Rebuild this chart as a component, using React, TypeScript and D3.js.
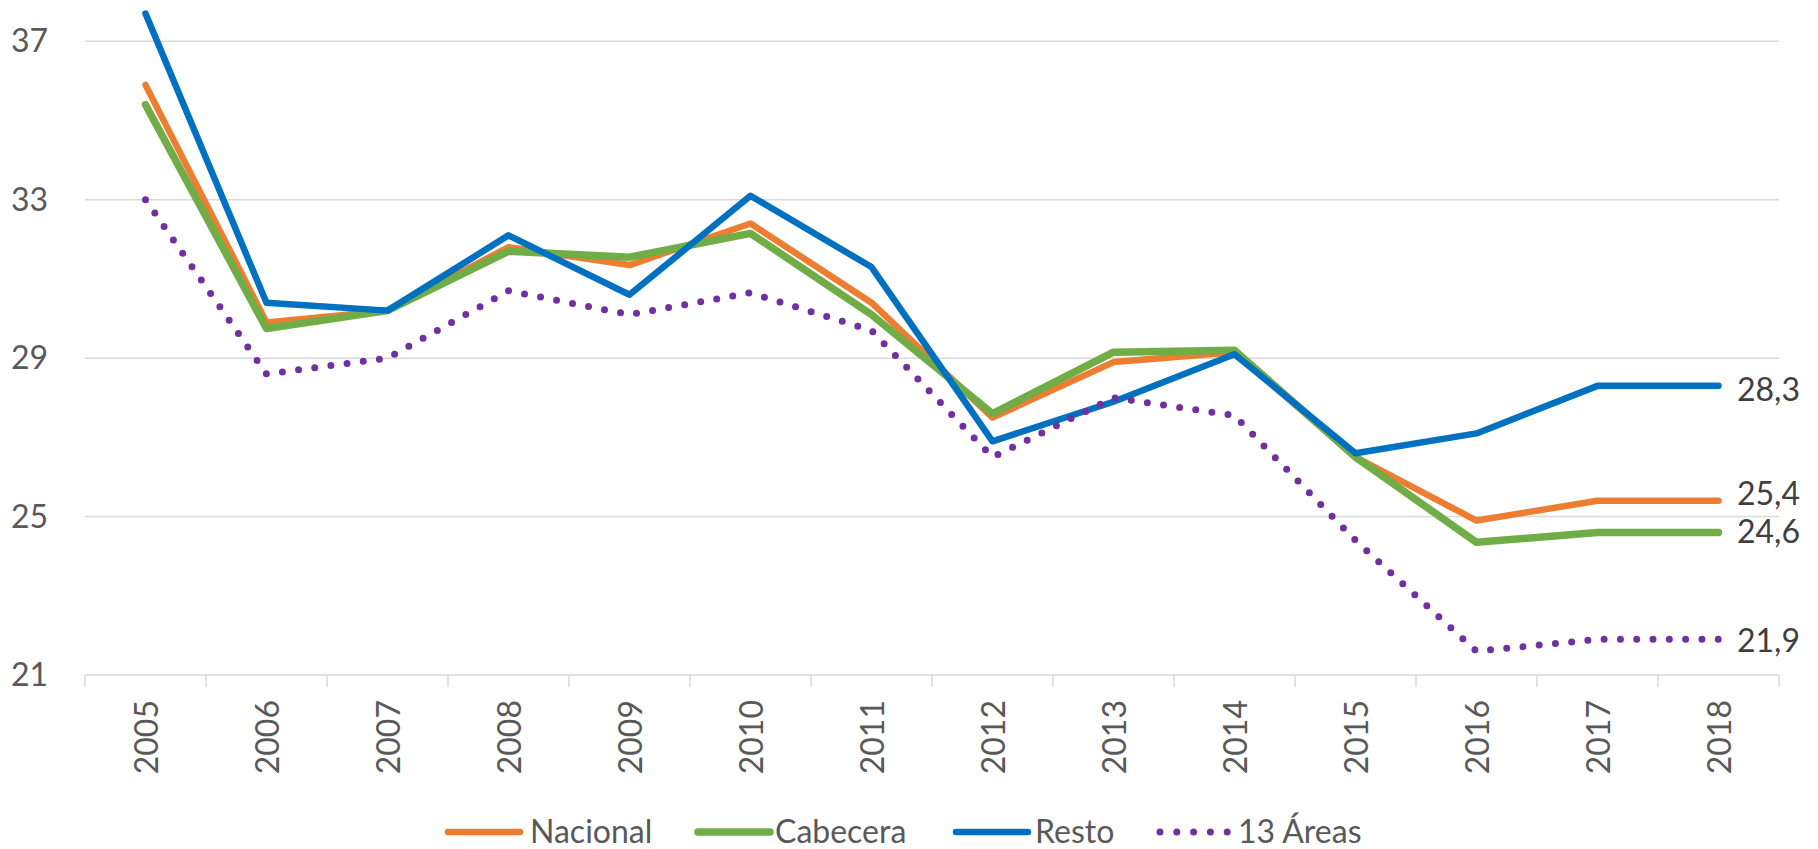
import React from 'react';
import * as d3 from 'd3';

const years = ['2005', '2006', '2007', '2008', '2009', '2010', '2011', '2012', '2013', '2014', '2015', '2016', '2017', '2018'];
const nacional = [35.9, 29.9, 30.2, 31.8, 31.35, 32.4, 30.4, 27.5, 28.9, 29.15, 26.5, 24.9, 25.4, 25.4];
const cabecera = [35.4, 29.75, 30.2, 31.7, 31.55, 32.15, 30.1, 27.6, 29.15, 29.2, 26.5, 24.35, 24.6, 24.6];
const resto = [37.7, 30.4, 30.2, 32.1, 30.6, 33.1, 31.3, 26.9, 27.9, 29.1, 26.6, 27.1, 28.3, 28.3];
const areas = [33.0, 28.6, 29.0, 30.7, 30.1, 30.65, 29.7, 26.5, 28.0, 27.55, 24.4, 21.6, 21.9, 21.9];
const yTicks = [21, 25, 29, 33, 37];
const seriesNames = ['Nacional', 'Cabecera', 'Resto', '13 Áreas'];

const W = 1818;
const H = 849;
const FONT = 'Lato, "Open Sans", sans-serif';

const series = [
  { name: seriesNames[0], values: nacional, color: '#ED7D31', width: 6.5, dotted: false, labelDy: 4, legendX: 448, textX: 530 },
  { name: seriesNames[1], values: cabecera, color: '#70AD47', width: 7.5, dotted: false, labelDy: 11, legendX: 698, textX: 775 },
  { name: seriesNames[2], values: resto, color: '#0070C0', width: 6.5, dotted: false, labelDy: 15, legendX: 956, textX: 1035 },
  { name: seriesNames[3], values: areas, color: '#7030A0', width: 7, dotted: true, labelDy: 13, legendX: 1160, textX: 1238 },
];

const App: React.FC = () => {
  const x = d3.scaleBand<string>().domain(years).range([85, 1779]).padding(0);
  const y = d3.scaleLinear().domain([21, 37]).range([675, 41.3]);
  const cx = (yr: string) => (x(yr) || 0) + x.bandwidth() / 2;

  const line = d3.line<number>()
    .x((d, i) => cx(years[i]))
    .y(d => y(d));

  const bounds = years.map(yr => x(yr) || 0).concat([1779]);

  return (
    <svg width={W} height={H} style={{ position: 'fixed', left: 0, top: 0, background: '#fff' }} fontFamily={FONT}>
      {/* gridlines */}
      {yTicks.map(t => (
        <line key={t} x1={85} x2={1779} y1={y(t)} y2={y(t)} stroke="#d9d9d9" strokeWidth={1.5} />
      ))}
      {/* category ticks */}
      {bounds.map((b, i) => (
        <line key={i} x1={b} x2={b} y1={y(21)} y2={y(21) + 12} stroke="#d9d9d9" strokeWidth={1.5} />
      ))}
      {/* y labels */}
      {yTicks.map(t => (
        <text key={t} x={48} y={y(t) + 11} textAnchor="end" fontSize={32} fill="#595959">{t}</text>
      ))}
      {/* x labels */}
      {years.map(yr => (
        <text key={yr} transform={`translate(${cx(yr) + 12},700) rotate(-90)`} textAnchor="end" fontSize={32} fill="#595959">{yr}</text>
      ))}
      {/* lines */}
      {series.map(s => (
        <path key={s.name} d={line(s.values) || ''} fill="none" stroke={s.color} strokeWidth={s.width}
          strokeLinecap="round" strokeLinejoin="round"
          strokeDasharray={s.dotted ? '0 16.3' : undefined} />
      ))}
      {/* end labels */}
      {series.map(s => (
        <text key={s.name} x={1737} y={y(s.values[s.values.length - 1]) + s.labelDy} fontSize={32} fill="#404040">
          {d3.format('.1f')(s.values[s.values.length - 1]).replace('.', ',')}
        </text>
      ))}
      {/* legend */}
      {series.map(s => (
        <g key={s.name}>
          <line x1={s.legendX} x2={s.legendX + 72} y1={832} y2={832} stroke={s.color} strokeWidth={s.width}
            strokeLinecap="round" strokeDasharray={s.dotted ? '0 16.8' : undefined} />
          <text x={s.textX} y={843} fontSize={32} fill="#595959">{s.name}</text>
        </g>
      ))}
    </svg>
  );
};

export default App;
